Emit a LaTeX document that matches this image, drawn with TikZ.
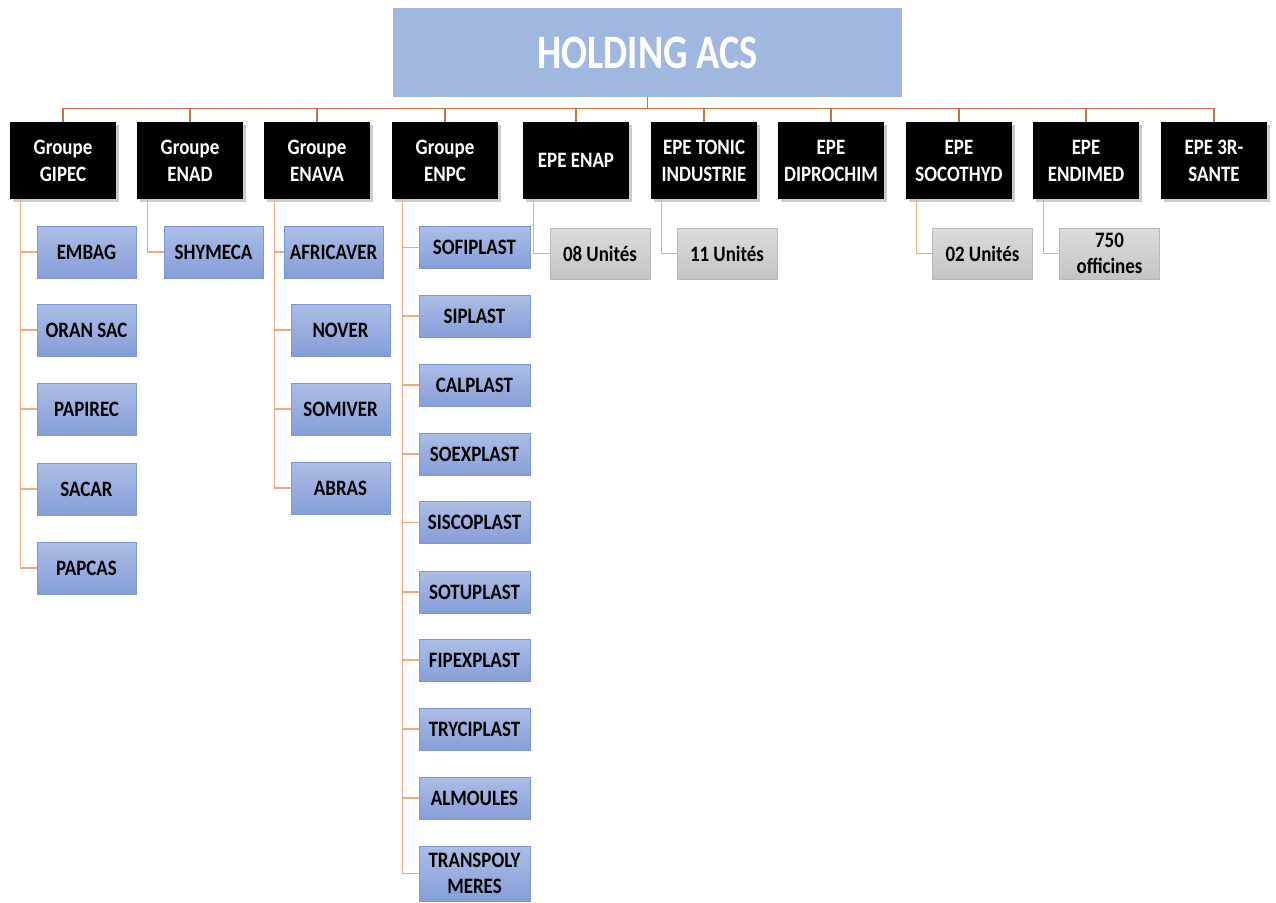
\documentclass[tikz,border=0pt]{standalone}
\usepackage{fontspec}
\setmainfont{Carlito}[FakeStretch=0.86]
\newfontfamily\titlefont{Carlito}[FakeStretch=0.8]
\usepackage{tikz}
\usetikzlibrary{shadows}
\usetikzlibrary{calc}
\definecolor{titleblue}{RGB}{160,184,224}
\definecolor{subtop}{RGB}{172,190,230}
\definecolor{subbot}{RGB}{134,158,216}
\definecolor{subline}{RGB}{120,152,214}
\definecolor{unittop}{RGB}{220,220,220}
\definecolor{unitbot}{RGB}{196,196,196}
\definecolor{unitline}{RGB}{185,185,185}
\definecolor{busline}{RGB}{196,114,70}
\definecolor{childline}{RGB}{242,168,124}
\tikzstyle{titlebox}=[rectangle,fill=titleblue,minimum width=509,minimum height=89,inner sep=0pt,text=white,font=\titlefont\fontsize{48}{56}\selectfont\bfseries]
\tikzstyle{groupbox}=[rectangle,fill=black,minimum width=106,minimum height=77,inner sep=0pt,text=white,align=center,font=\fontsize{22}{27}\selectfont\bfseries,drop shadow={shadow xshift=3pt,shadow yshift=-3pt,opacity=0.4}]
\tikzstyle{subbox}=[rectangle,top color=subtop,bottom color=subbot,draw=subline,minimum width=99,minimum height=52,inner sep=0pt,align=center,font=\fontsize{22}{26}\selectfont\bfseries]
\tikzstyle{plastbox}=[subbox,minimum width=111,minimum height=42]
\tikzstyle{unitbox}=[rectangle,top color=unittop,bottom color=unitbot,draw=unitline,minimum width=100,minimum height=51,inner sep=0pt,align=center,font=\fontsize{22}{26}\selectfont\bfseries]
\tikzstyle{bus} = [draw,busline,line width=1.3pt]
\tikzstyle{link} = [draw,childline,line width=1.3pt]

\begin{document}
\begin{tikzpicture}[x=1pt,y=-1pt]
    \useasboundingbox (0,0) rectangle (1276,902);

    \node[titlebox] (holding) at (647.5,52.5) {HOLDING ACS};

    \foreach \pos/\name/\txt in {{(63,160.5)/gipec/{Groupe\\GIPEC}}, {(190,160.5)/enad/{Groupe\\ENAD}}, {(317,160.5)/enava/{Groupe\\ENAVA}}, {(445,160.5)/enpc/{Groupe\\ENPC}}, {(576,160.5)/enap/{EPE ENAP}}, {(704,160.5)/tonic/{EPE TONIC\\INDUSTRIE}}, {(831,160.5)/diprochim/{EPE\\DIPROCHIM}}, {(959,160.5)/socothyd/{EPE\\SOCOTHYD}}, {(1086,160.5)/endimed/{EPE\\ENDIMED}}, {(1214,160.5)/sante/{EPE 3R-\\SANTE}}}
        \node[groupbox] (\name) at \pos {\txt};

    \foreach \pos/\name/\txt in {{(86.5,252)/embag/EMBAG}, {(86.5,330)/oransac/ORAN SAC}, {(86.5,409)/papirec/PAPIREC}, {(86.5,489)/sacar/SACAR}, {(86.5,568)/papcas/PAPCAS}, {(213.5,252)/shymeca/SHYMECA}, {(333.5,252)/africaver/AFRICAVER}, {(340.5,330)/nover/NOVER}, {(340.5,409)/somiver/SOMIVER}, {(340.5,488)/abras/ABRAS}}
        \node[subbox] (\name) at \pos {\txt};

    \foreach \pos/\name/\txt in {{(474.5,247.5)/sofiplast/SOFIPLAST}, {(474.5,316)/siplast/SIPLAST}, {(474.5,385)/calplast/CALPLAST}, {(474.5,454)/soexplast/SOEXPLAST}, {(474.5,522.5)/siscoplast/SISCOPLAST}, {(474.5,592)/sotuplast/SOTUPLAST}, {(474.5,660)/fipexplast/FIPEXPLAST}, {(474.5,729)/tryciplast/TRYCIPLAST}, {(474.5,798)/almoules/ALMOULES}}
        \node[plastbox] (\name) at \pos {\txt};
    \node[plastbox,minimum height=55] (transpoly) at (474.5,873.5) {TRANSPOLY\\MERES};

    \foreach \pos/\name/\txt in {{(600,253.5)/enapu/08 Unités}, {(727,253.5)/tonicu/11 Unités}, {(982.5,253.5)/socou/02 Unités}, {(1109.5,253.5)/endimedu/{750\\officines}}}
        \node[unitbox] (\name) at \pos {\txt};

    \foreach \name in {gipec,enad,enava,enpc,enap,tonic,diprochim,socothyd,endimed,sante}
        \path[bus] (holding.south) -- ++(0,11) -| (\name.north);

    \foreach \source/\dest in {gipec/embag, gipec/oransac, gipec/papirec, gipec/sacar, gipec/papcas, enad/shymeca, enava/africaver, enava/nover, enava/somiver, enava/abras, enpc/sofiplast, enpc/siplast, enpc/calplast, enpc/soexplast, enpc/siscoplast, enpc/sotuplast, enpc/fipexplast, enpc/tryciplast, enpc/almoules, enpc/transpoly, enap/enapu, tonic/tonicu, socothyd/socou, endimed/endimedu}
        \path[link] ($(\source.south west)+(11,0)$) |- (\dest.west);

\end{tikzpicture}
\end{document}
